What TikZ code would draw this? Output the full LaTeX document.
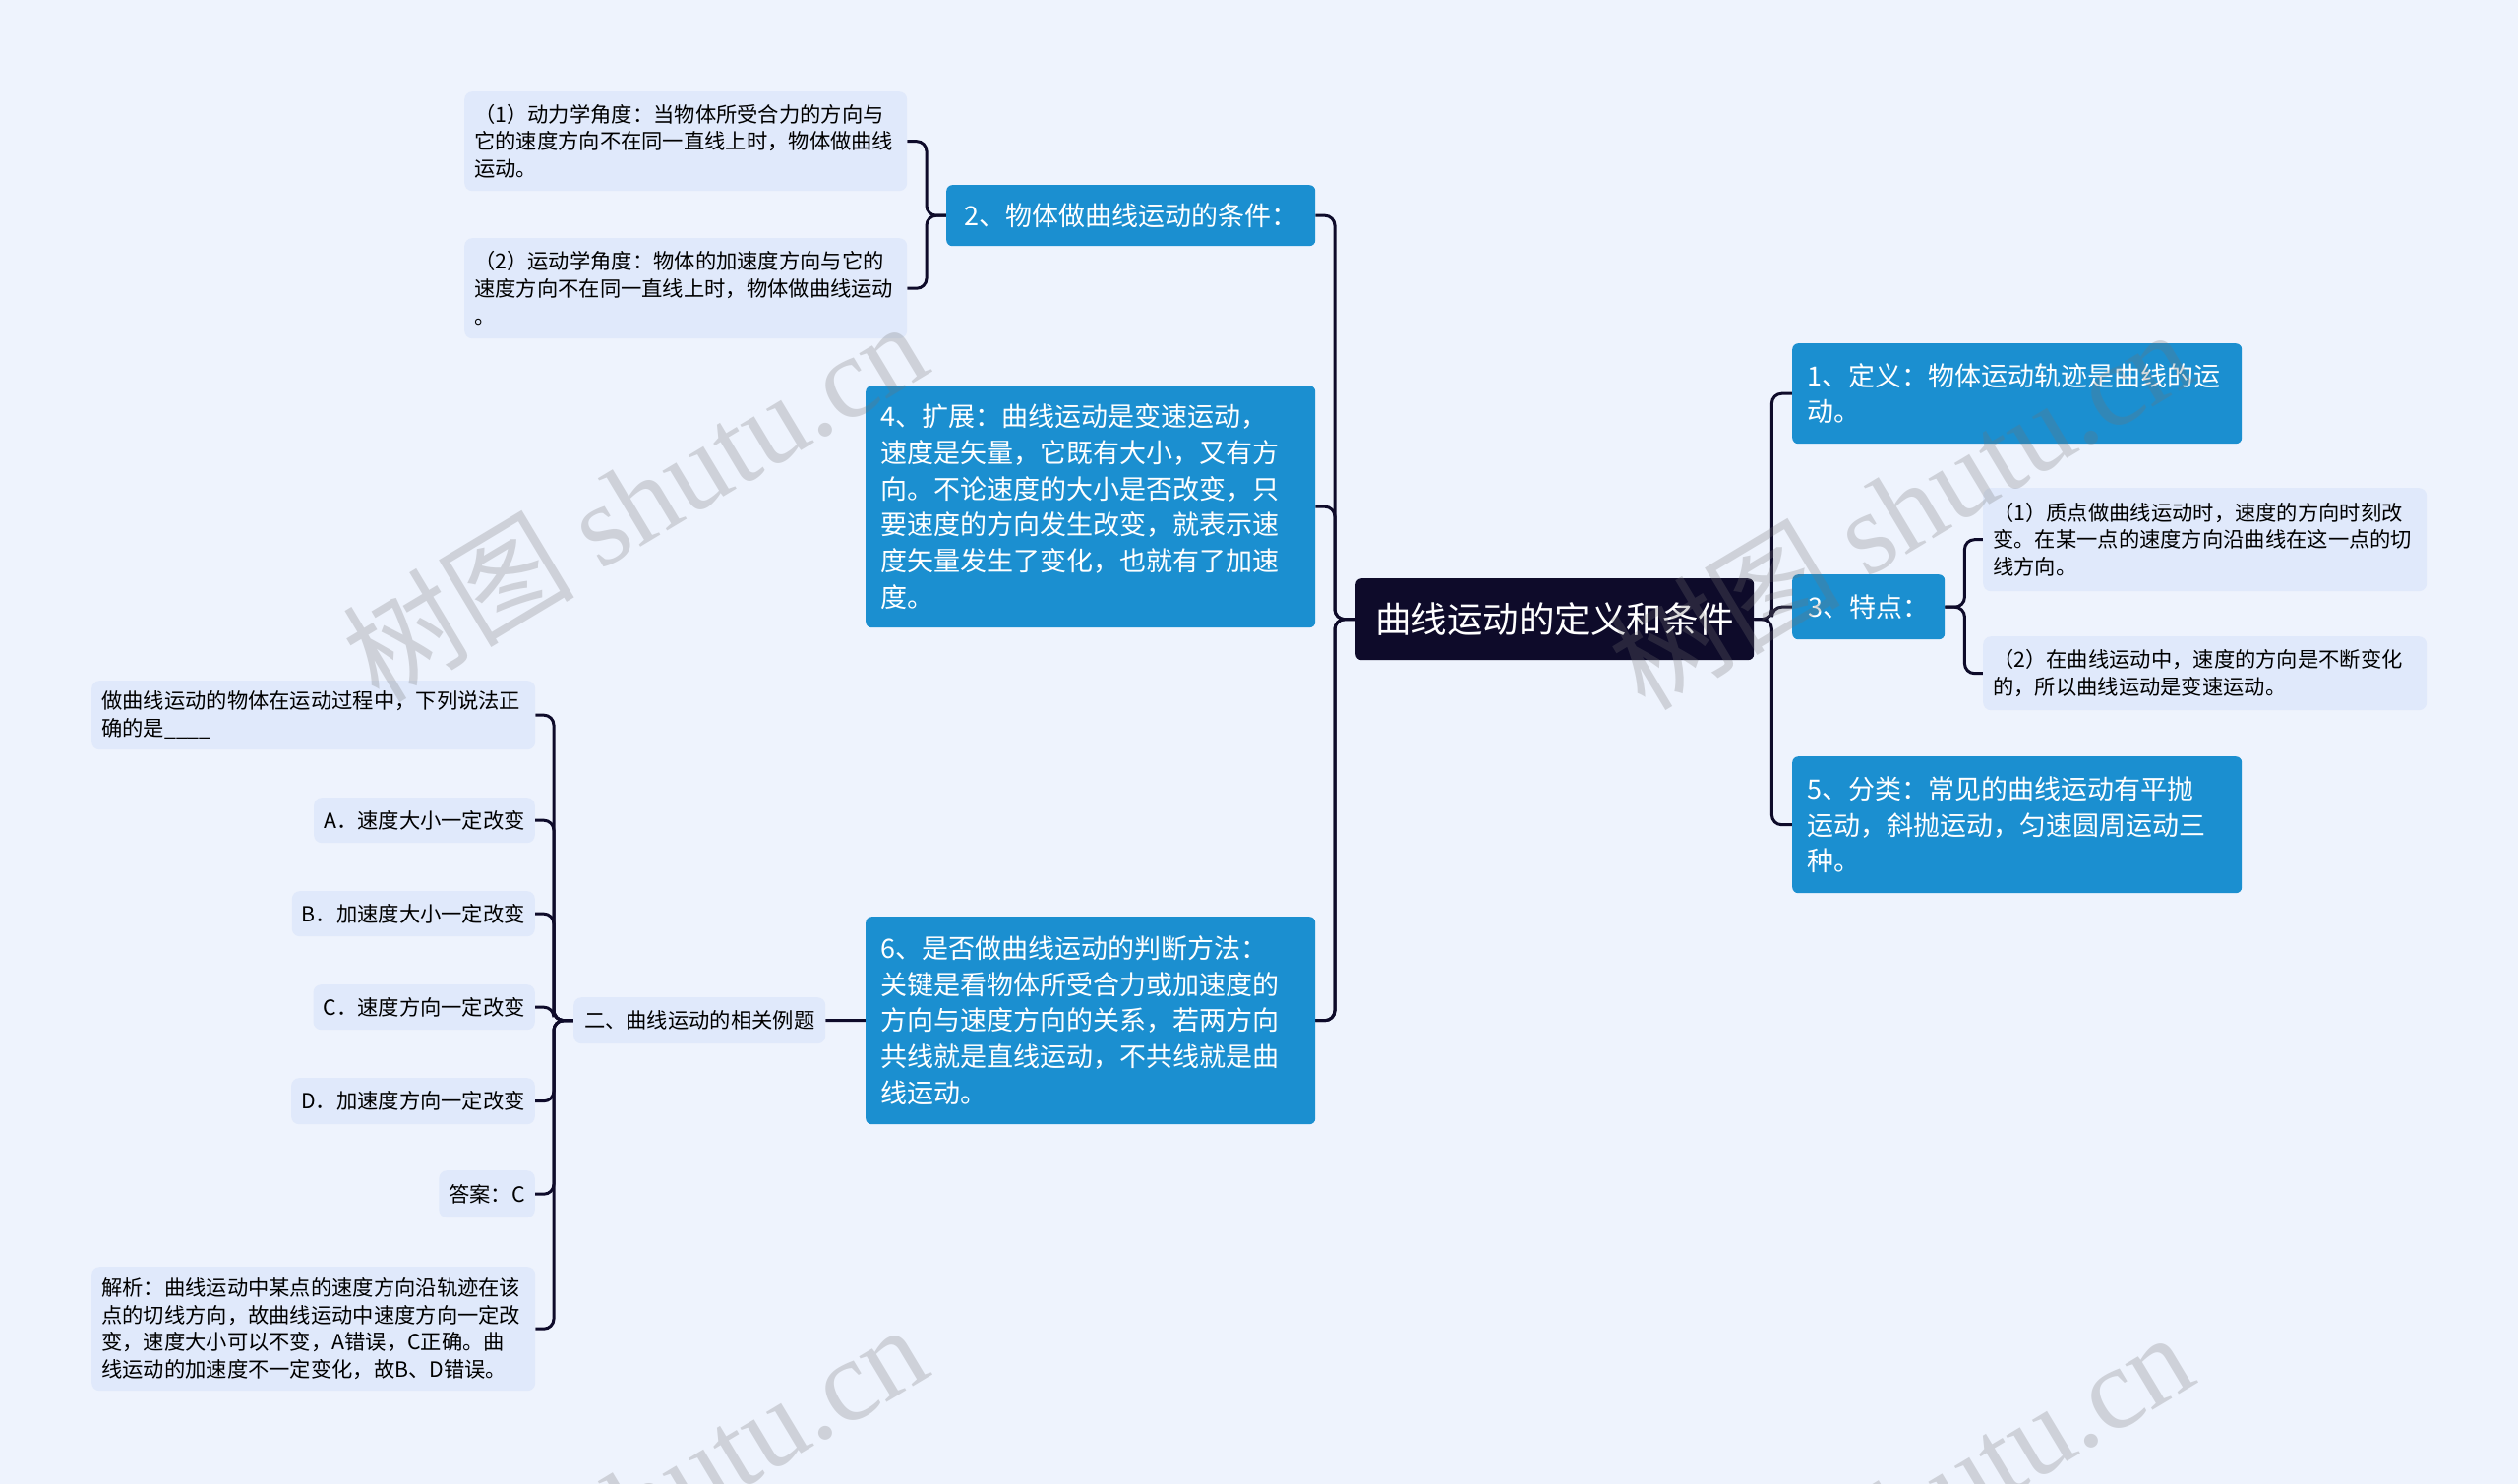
\documentclass[tikz,border=0pt]{standalone}
\usepackage{fontspec}
\setmainfont{Noto Sans CJK SC}
\newfontfamily\wmfont{Liberation Serif}
\usetikzlibrary{backgrounds}
\definecolor{cBack}{RGB}{238,243,253}
\definecolor{cRoot}{RGB}{14,11,42}
\definecolor{cBlue}{RGB}{27,143,208}
\definecolor{cLeaf}{RGB}{224,233,251}
\definecolor{cLine}{RGB}{14,11,42}
\tikzset{
	rootbox/.style ={rectangle, rounded corners=6pt, fill=cRoot, text=white, inner xsep=20pt, font=\fontsize{36.5}{44}\selectfont},
	topicbox/.style={rectangle, rounded corners=6pt, fill=cBlue, text=white, inner xsep=15pt, align=left, font=\fontsize{27}{36.7}\selectfont},
	leafbox/.style ={rectangle, rounded corners=8pt, fill=cLeaf, text=black, inner xsep=10pt, align=left, font=\fontsize{21.3}{27.8}\selectfont},
	conn/.style    ={draw=cLine, line width=3pt, rounded corners=10pt},
	% watermark
	wmark/.style   ={text=black!55, opacity=0.26, rotate=31, font=\fontsize{118}{124}\selectfont},
}

\begin{document}
\begin{tikzpicture}[x=1pt, y=-1pt]
	\useasboundingbox (0,0) rectangle (2560,1509);
	% centre
	\node[rootbox, anchor=north west, minimum width=405pt, minimum height=83pt] (root) at (1378,588) {曲线运动的定义和条件};
	% left side
	\node[topicbox, anchor=north west, minimum width=375pt, minimum height=62pt] (n2) at (962,188) {2、物体做曲线运动的条件：};
	\node[topicbox, anchor=north west, minimum width=457pt, minimum height=246pt, text width=427pt] (n4) at (880,392) {4、扩展：曲线运动是变速运动，\\速度是矢量，它既有大小，又有方\\向。不论速度的大小是否改变，只\\要速度的方向发生改变，就表示速\\度矢量发生了变化，也就有了加速\\度。};
	\node[topicbox, anchor=north west, minimum width=457pt, minimum height=211pt, text width=427pt] (n6) at (880,932) {6、是否做曲线运动的判断方法：\\关键是看物体所受合力或加速度的\\方向与速度方向的关系，若两方向\\共线就是直线运动，不共线就是曲\\线运动。};
	\node[leafbox, anchor=north west, minimum width=256pt, minimum height=47pt] (ex) at (583,1014) {二、曲线运动的相关例题};
	\node[leafbox, anchor=north west, minimum width=450pt, minimum height=101pt, text width=430pt] (c1) at (472,93) {（1）动力学角度：当物体所受合力的方向与\\它的速度方向不在同一直线上时，物体做曲线\\运动。};
	\node[leafbox, anchor=north west, minimum width=450pt, minimum height=102pt, text width=430pt] (c2) at (472,242) {（2）运动学角度：物体的加速度方向与它的\\速度方向不在同一直线上时，物体做曲线运动\\。};
	% example question
	\node[leafbox, anchor=north west, minimum width=451pt, minimum height=70pt, text width=431pt] (q) at (93,692) {做曲线运动的物体在运动过程中，下列说法正\\确的是\_\_\_\_};
	\node[leafbox, anchor=north east, minimum height=46pt] (oa) at (544,811) {A．速度大小一定改变};
	\node[leafbox, anchor=north east, minimum height=46pt] (ob) at (544,906) {B．加速度大小一定改变};
	\node[leafbox, anchor=north east, minimum height=46pt] (oc) at (544,1001) {C．速度方向一定改变};
	\node[leafbox, anchor=north east, minimum height=47pt] (od) at (544,1096) {D．加速度方向一定改变};
	\node[leafbox, anchor=north east, minimum height=48pt] (ans) at (544,1190) {答案：C};
	\node[leafbox, anchor=north west, minimum width=451pt, minimum height=126pt, text width=431pt] (jx) at (93,1288) {解析：曲线运动中某点的速度方向沿轨迹在该\\点的切线方向，故曲线运动中速度方向一定改\\变，速度大小可以不变，A错误，C正确。曲\\线运动的加速度不一定变化，故B、D错误。};
	% right side
	\node[topicbox, anchor=north west, minimum width=457pt, minimum height=102pt, text width=427pt] (n1) at (1822,349) {1、定义：物体运动轨迹是曲线的运\\动。};
	\node[topicbox, anchor=north west, minimum width=155pt, minimum height=66pt] (n3) at (1822,584) {3、特点：};
	\node[topicbox, anchor=north west, minimum width=457pt, minimum height=139pt, text width=427pt] (n5) at (1822,769) {5、分类：常见的曲线运动有平抛\\运动，斜抛运动，匀速圆周运动三\\种。};
	\node[leafbox, anchor=north west, minimum width=451pt, minimum height=105pt, text width=431pt] (t1) at (2016,496) {（1）质点做曲线运动时，速度的方向时刻改\\变。在某一点的速度方向沿曲线在这一点的切\\线方向。};
	\node[leafbox, anchor=north west, minimum width=451pt, minimum height=75pt, text width=431pt] (t2) at (2016,647) {（2）在曲线运动中，速度的方向是不断变化\\的，所以曲线运动是变速运动。};

	\begin{scope}[on background layer]
		\fill[cBack] (0,0) rectangle (2560,1509);
		\foreach \k in {n2,n4,n6,ex}
			\draw[conn] (root.west) -- ++(-21,0) |- (\k.east);
		\foreach \k in {n1,n3,n5}
			\draw[conn] (root.east) -- ++(18,0) |- (\k.west);
		\foreach \k in {c1,c2}
			\draw[conn] (n2.west) -- ++(-20,0) |- (\k.east);
		\foreach \k in {t1,t2}
			\draw[conn] (n3.east) -- ++(20,0) |- (\k.west);
		\foreach \k in {q,oa,ob,oc,od,ans,jx}
			\draw[conn] (ex.west) -- ++(-20,0) |- (\k.east);
	\end{scope}

	% watermarks
	\node[wmark] (wm1) at (645,508) {树图 {\wmfont shutu.cn}};
	\node[wmark] (wm2) at (1932,516) {树图 {\wmfont shutu.cn}};
	\node[wmark] (wm3) at (645,1528) {树图 {\wmfont shutu.cn}};
	\node[wmark] (wm4) at (1932,1536) {树图 {\wmfont shutu.cn}};
\end{tikzpicture}
\end{document}
